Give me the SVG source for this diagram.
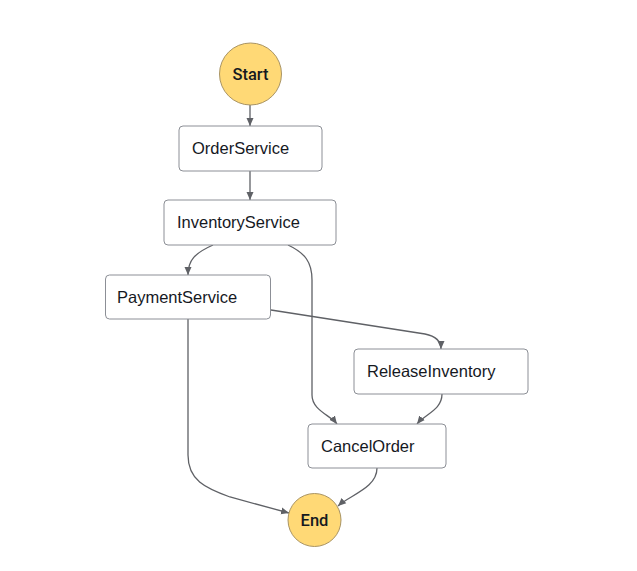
<svg xmlns="http://www.w3.org/2000/svg" width="637" height="571" viewBox="0 0 637 571">
<style>
.box{fill:#ffffff;stroke:#8c8f96;stroke-width:1}
.term{fill:#ffd976;stroke:#a99464;stroke-width:1}
.lbl{font-family:"Liberation Sans",Arial,sans-serif;font-size:16.5px;fill:#16191f}
.tlbl{font-family:Roboto,"Liberation Sans",sans-serif;font-weight:500;font-size:16.5px;fill:#16191f;text-anchor:middle}
.edge{fill:none;stroke:#5f6166;stroke-width:1.3;marker-end:url(#arr)}
</style>
<defs>
<marker id="arr" markerUnits="userSpaceOnUse" markerWidth="9" markerHeight="8" refX="8" refY="4" orient="auto">
<path d="M0,0.5 L8,4 L0,7.5 z" fill="#5f6166"/>
</marker>
</defs>
<rect width="637" height="571" fill="#ffffff"/>
<g id="edges">
<path class="edge" d="M250,105 L250,126"/>
<path class="edge" d="M250,171 L250,200"/>
<path class="edge" d="M213,245 C195,253 188,260 188,275"/>
<path class="edge" d="M288,245 C305,253 312,262 312,280 L312,395 C312,410 330,415 337,424"/>
<path class="edge" d="M271,310 L425,334 C435,336 441,340 441,349"/>
<path class="edge" d="M442,394 C442,410 425,414 417,424"/>
<path class="edge" d="M377,468 C377,488 350,495 338,506"/>
<path class="edge" d="M188,319 L188,455 C188,480 205,488 230,497 L289,513"/>
</g>
<g id="Start"><circle class="term" cx="250.5" cy="74" r="31"/><text class="tlbl" x="250.5" y="80">Start</text></g>
<g id="OrderService"><rect class="box" x="179" y="126" width="143" height="45" rx="4"/><text class="lbl" x="192" y="154">OrderService</text></g>
<g id="InventoryService"><rect class="box" x="164" y="200" width="172" height="45" rx="4"/><text class="lbl" x="177" y="228">InventoryService</text></g>
<g id="PaymentService"><rect class="box" x="105.5" y="275" width="165" height="44" rx="4"/><text class="lbl" x="117" y="303">PaymentService</text></g>
<g id="ReleaseInventory"><rect class="box" x="354" y="349" width="174" height="45" rx="4"/><text class="lbl" x="367" y="377">ReleaseInventory</text></g>
<g id="CancelOrder"><rect class="box" x="308" y="424" width="138" height="44" rx="4"/><text class="lbl" x="321" y="452">CancelOrder</text></g>
<g id="End"><circle class="term" cx="314.5" cy="520" r="26.5"/><text class="tlbl" x="314.5" y="526">End</text></g>
</svg>
